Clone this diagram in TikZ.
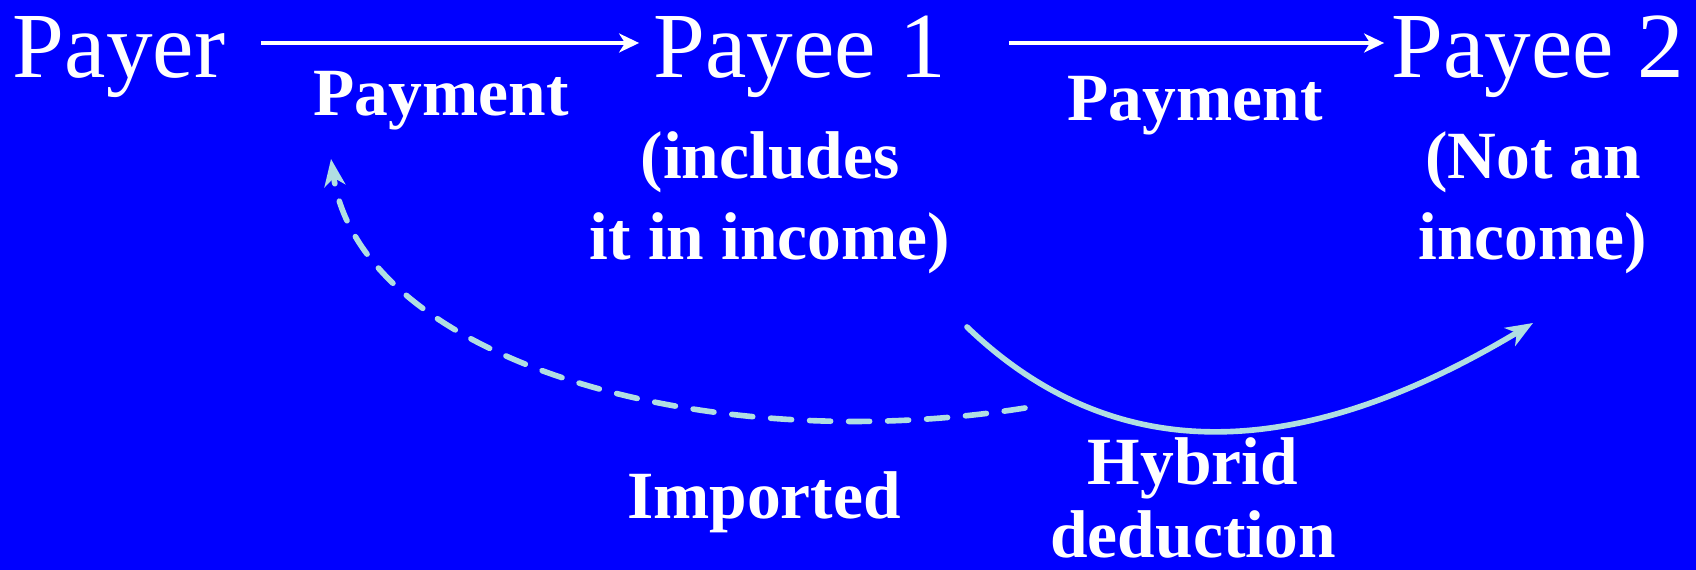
\documentclass[tikz,border=0pt]{standalone}
\usepackage{fontspec}
\setmainfont{Liberation Serif}
\usetikzlibrary{arrows.meta,positioning}
\definecolor{slideblue}{RGB}{0,0,255}
\definecolor{arcblue}{RGB}{176,222,226}

\begin{document}
\begin{tikzpicture}[
    x=0.01cm,y=0.01cm,>=Stealth,
    party/.style={text=white,inner sep=0pt,anchor=base,font=\fontsize{26.5}{30}\selectfont},
    lbl/.style={text=white,inner sep=0pt,anchor=base,align=center,font=\fontsize{19.2}{23.3}\selectfont\bfseries},
    paylink/.style={->,draw=white,line width=0.9pt,>={Stealth[length=0.2cm,width=0.19cm,inset=0.06cm]}},
    taxlink/.style={->,draw=arcblue,line width=1.6pt,line cap=round,>={Stealth[length=0.27cm,width=0.21cm,inset=0.08cm]}}]
  \fill[slideblue] (0,0) rectangle (1696,570);
  \useasboundingbox (0,0) rectangle (1696,570);
  % parties and payment flow
  \node[party] (payer) at (119,492) {Payer};
  \node[party] (payeeA) at (800,492) {Payee 1};
  \node[party] (payeeB) at (1538,492) {Payee 2};
  \coordinate (flow) at (0,527);
  \draw[paylink,shorten <=0.35cm,shorten >=0.14cm] (payer.east |- flow) -- (payeeA.west |- flow);
  \draw[paylink,shorten <=0.62cm,shorten >=0.07cm] (payeeA.east |- flow) -- (payeeB.west |- flow);
  \node[lbl] (payA) at (441,454) {Payment};
  \node[lbl] (payB) at (1195,449) {Payment};
  % base of a two-line node is its last line
  \node[lbl] (incl) at (770,310) {(includes\\it in income)};
  \node[lbl] (notinc) at (1533,310) {(Not an\\income)};
  % hybrid deduction and the imported one
  \coordinate (hybfrom) at (967,243);
  \coordinate (hybto) at (1533,247);
  \coordinate (impfrom) at (1025,162);
  \coordinate (impto) at (331,411);
  \draw[taxlink] (hybfrom) .. controls (1117,99) and (1303,109) .. (hybto);
  \draw[taxlink,dash pattern=on 0.21cm off 0.18cm] (impfrom) .. controls (700,110) and (360,213) .. (impto);
  \node[lbl] (imp) at (764,51) {Imported};
  \node[lbl,font=\fontsize{19.2}{20.8}\selectfont\bfseries] (hyb) at (1193,12) {Hybrid\\deduction};
\end{tikzpicture}
\end{document}
